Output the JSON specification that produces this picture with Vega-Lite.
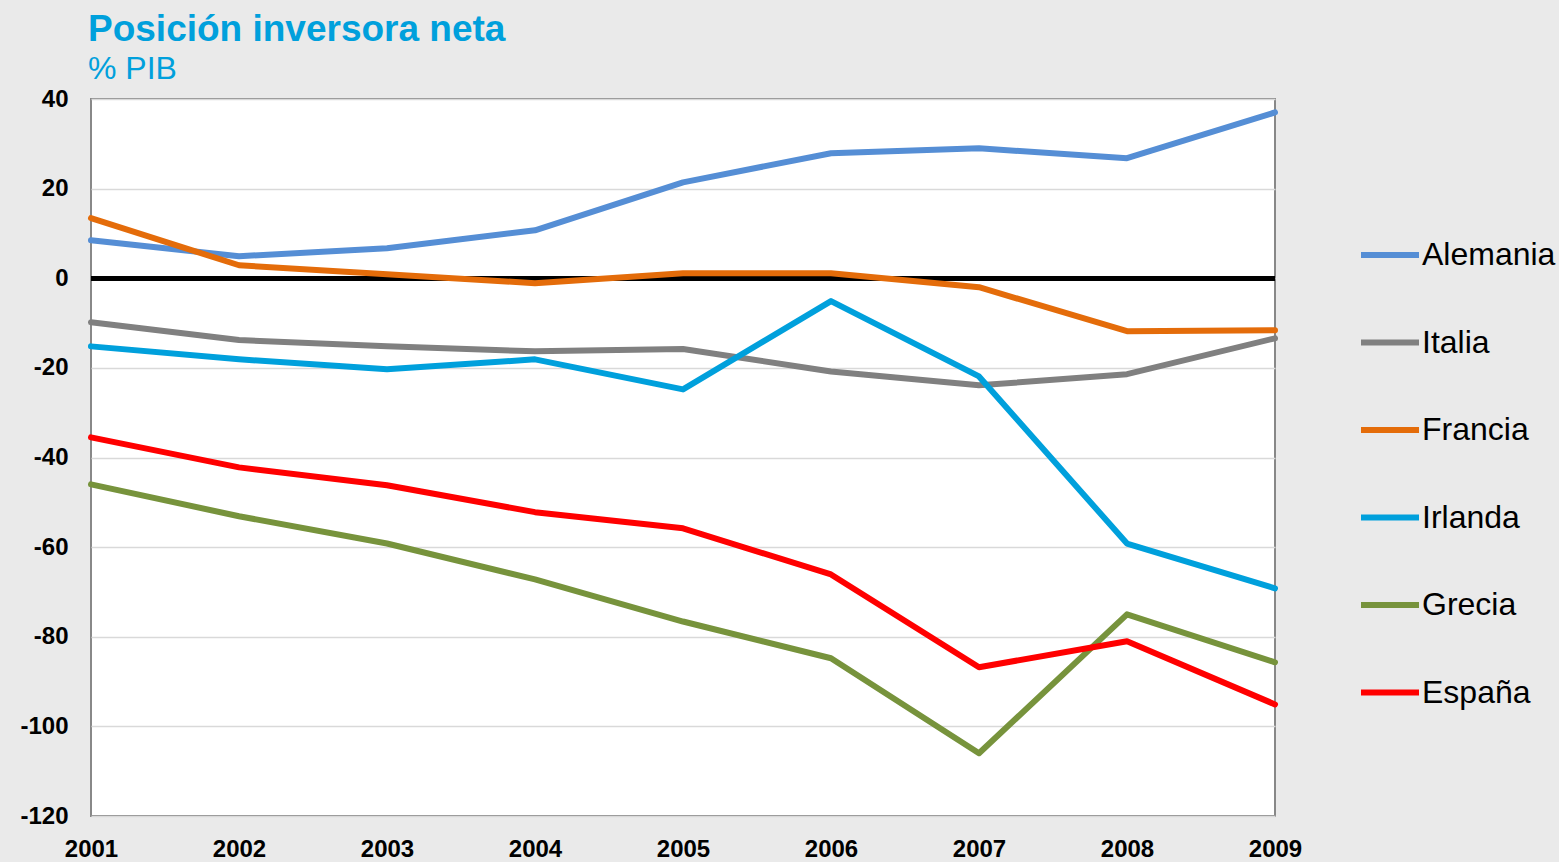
{
  "$schema": "https://vega.github.io/schema/vega-lite/v6.json",
  "autosize": "none",
  "width": 1184,
  "height": 717,
  "padding": {"left": 91, "top": 99, "right": 284, "bottom": 46},
  "background": "#EAEAEA",
  "config": {
    "font": "Liberation Sans",
    "view": {"fill": "white", "stroke": "#888888", "strokeWidth": 2}
  },
  "title": {
    "text": "Posición inversora neta",
    "subtitle": "% PIB",
    "anchor": "start",
    "frame": "group",
    "offset": 1,
    "dx": -3,
    "font": "Liberation Sans",
    "fontSize": 37,
    "fontWeight": "bold",
    "color": "#00A0DC",
    "subtitleFont": "Liberation Sans",
    "subtitleFontSize": 32,
    "subtitleColor": "#00A0DC",
    "subtitlePadding": 5
  },
  "data": {
    "values": [
      {"pais": "Alemania", "año": 2001, "valor": 8.5},
      {"pais": "Alemania", "año": 2002, "valor": 4.9},
      {"pais": "Alemania", "año": 2003, "valor": 6.7},
      {"pais": "Alemania", "año": 2004, "valor": 10.7},
      {"pais": "Alemania", "año": 2005, "valor": 21.4},
      {"pais": "Alemania", "año": 2006, "valor": 27.9},
      {"pais": "Alemania", "año": 2007, "valor": 29.0},
      {"pais": "Alemania", "año": 2008, "valor": 26.8},
      {"pais": "Alemania", "año": 2009, "valor": 37.0},
      {"pais": "Italia", "año": 2001, "valor": -9.8},
      {"pais": "Italia", "año": 2002, "valor": -13.8},
      {"pais": "Italia", "año": 2003, "valor": -15.2},
      {"pais": "Italia", "año": 2004, "valor": -16.3},
      {"pais": "Italia", "año": 2005, "valor": -15.8},
      {"pais": "Italia", "año": 2006, "valor": -20.8},
      {"pais": "Italia", "año": 2007, "valor": -23.9},
      {"pais": "Italia", "año": 2008, "valor": -21.4},
      {"pais": "Italia", "año": 2009, "valor": -13.4},
      {"pais": "Francia", "año": 2001, "valor": 13.4},
      {"pais": "Francia", "año": 2002, "valor": 2.9},
      {"pais": "Francia", "año": 2003, "valor": 0.9},
      {"pais": "Francia", "año": 2004, "valor": -1.1},
      {"pais": "Francia", "año": 2005, "valor": 1.1},
      {"pais": "Francia", "año": 2006, "valor": 1.1},
      {"pais": "Francia", "año": 2007, "valor": -2.0},
      {"pais": "Francia", "año": 2008, "valor": -11.8},
      {"pais": "Francia", "año": 2009, "valor": -11.6},
      {"pais": "Irlanda", "año": 2001, "valor": -15.2},
      {"pais": "Irlanda", "año": 2002, "valor": -18.1},
      {"pais": "Irlanda", "año": 2003, "valor": -20.3},
      {"pais": "Irlanda", "año": 2004, "valor": -18.1},
      {"pais": "Irlanda", "año": 2005, "valor": -24.8},
      {"pais": "Irlanda", "año": 2006, "valor": -5.1},
      {"pais": "Irlanda", "año": 2007, "valor": -21.9},
      {"pais": "Irlanda", "año": 2008, "valor": -59.2},
      {"pais": "Irlanda", "año": 2009, "valor": -69.2},
      {"pais": "Grecia", "año": 2001, "valor": -46.0},
      {"pais": "Grecia", "año": 2002, "valor": -53.1},
      {"pais": "Grecia", "año": 2003, "valor": -59.2},
      {"pais": "Grecia", "año": 2004, "valor": -67.2},
      {"pais": "Grecia", "año": 2005, "valor": -76.6},
      {"pais": "Grecia", "año": 2006, "valor": -84.8},
      {"pais": "Grecia", "año": 2007, "valor": -106.0},
      {"pais": "Grecia", "año": 2008, "valor": -75.0},
      {"pais": "Grecia", "año": 2009, "valor": -85.7},
      {"pais": "España", "año": 2001, "valor": -35.5},
      {"pais": "España", "año": 2002, "valor": -42.2},
      {"pais": "España", "año": 2003, "valor": -46.2},
      {"pais": "España", "año": 2004, "valor": -52.2},
      {"pais": "España", "año": 2005, "valor": -55.8},
      {"pais": "España", "año": 2006, "valor": -66.1},
      {"pais": "España", "año": 2007, "valor": -86.8},
      {"pais": "España", "año": 2008, "valor": -81.0},
      {"pais": "España", "año": 2009, "valor": -95.1}
    ]
  },
  "layer": [
    {
      "mark": {"type": "rule", "color": "black", "strokeWidth": 4},
      "encoding": {"y": {"datum": 0, "type": "quantitative"}}
    },
    {
      "mark": {"type": "line", "strokeWidth": 6, "strokeCap": "round", "strokeJoin": "round"},
      "encoding": {
        "x": {
          "field": "año",
          "type": "quantitative",
          "scale": {"domain": [2001, 2009], "nice": false, "zero": false},
          "axis": {
            "title": null,
            "values": [2001, 2002, 2003, 2004, 2005, 2006, 2007, 2008, 2009],
            "labelExpr": "datum.value + ''",
            "grid": false,
            "ticks": false,
            "domain": false,
            "labelFont": "Liberation Sans",
            "labelFontSize": 24,
            "labelFontWeight": "bold",
            "labelColor": "black",
            "labelPadding": 21,
            "labelFlush": false,
            "labelOverlap": false
          }
        },
        "y": {
          "field": "valor",
          "type": "quantitative",
          "scale": {"domain": [-120, 40], "nice": false},
          "axis": {
            "title": null,
            "values": [-120, -100, -80, -60, -40, -20, 0, 20, 40],
            "labelExpr": "datum.value + ''",
            "grid": true,
            "gridColor": "#D9D9D9",
            "gridWidth": 1.5,
            "ticks": false,
            "domain": false,
            "labelFont": "Liberation Sans",
            "labelFontSize": 24,
            "labelFontWeight": "bold",
            "labelColor": "black",
            "labelPadding": 23,
            "labelFlush": false,
            "labelOverlap": false
          }
        },
        "color": {
          "field": "pais",
          "type": "nominal",
          "scale": {
            "domain": ["Alemania", "Italia", "Francia", "Irlanda", "Grecia", "España"],
            "range": ["#558ED5", "#808080", "#E46C0A", "#00A0DC", "#77933C", "#FF0000"]
          },
          "legend": {
            "title": null,
            "orient": "none",
            "legendX": 1267,
            "legendY": 124,
            "symbolType": "stroke",
            "symbolSize": 3364,
            "symbolStrokeWidth": 6,
            "labelFont": "Liberation Sans",
            "labelFontSize": 32,
            "labelColor": "black",
            "labelOffset": 0,
            "rowPadding": 39.5,
            "labelLimit": 300
          }
        },
        "order": {"field": "pais"}
      }
    }
  ]
}
